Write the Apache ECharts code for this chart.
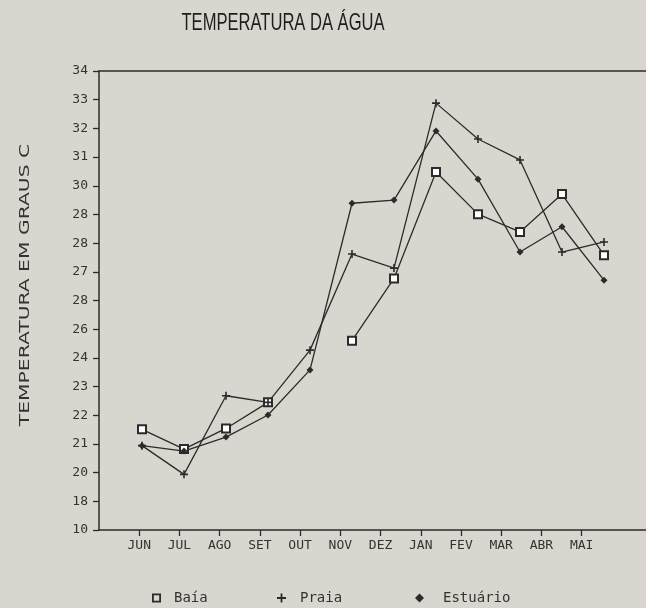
<!DOCTYPE html>
<html>
<head>
<meta charset="utf-8">
<script src="https://cdn.jsdelivr.net/npm/echarts@6/dist/echarts.min.js"></script>
<style>
  html, body { margin: 0; padding: 0; background: #d8d6ce; }
  #chart { width: 646px; height: 608px; }
</style>
</head>
<body>
<div id="chart"></div>
<script>
// months on the x axis
const months = ['JUN', 'JUL', 'AGO', 'SET', 'OUT', 'NOV', 'DEZ', 'JAN', 'FEV', 'MAR', 'ABR', 'MAI'];
// printed y tick labels, bottom to top (evenly spaced on the original)
const yTickLabels = ['10', '18', '20', '21', '22', '23', '24', '26', '28', '27', '28', '28', '30', '31', '32', '33', '34'];

// values = position on the printed scale, in tick steps above the bottom tick
const baia = [3.51, 2.82, 3.54, 4.45, null, 6.60, 8.77, 12.48, 11.01, 10.39, 11.71, 9.58];
const praia = [2.94, 1.94, 4.68, 4.45, 6.27, 9.62, 9.13, 14.88, 13.63, 12.90, 9.69, 10.04];
const estuario = [2.94, 2.75, 3.24, 4.01, 5.58, 11.39, 11.50, 13.91, 12.23, 9.69, 10.57, 8.71];

const bg = '#d8d6ce';
const ink = '#2b2b2b';
const mono = 'DejaVu Sans Mono';
const plusPath = 'path://M4,0h2v4h4v2h-4v4h-2v-4h-4v-2h4z';
// hollow square drawn as four bars (legend key)
const hollowSquare = 'path://M0,0H10V2H0Z M0,8H10V10H0Z M0,2H2V8H0Z M8,2H10V8H8Z';

const toPairs = arr => arr.map((v, i) => [i, v == null ? '-' : v]);

const lineStyle = { color: ink, width: 1.3 };

// one legend per entry so each can sit where the typed key sits
function legendFor(name, icon, left, textPad) {
  return {
    left: left,
    top: 586,
    itemWidth: 9,
    itemHeight: 9,
    textStyle: { fontFamily: mono, fontSize: 14, color: '#333', padding: [0, 0, 0, textPad] },
    data: [{ name: name, icon: icon, itemStyle: { color: ink, borderWidth: 0 } }]
  };
}

const chart = echarts.init(document.getElementById('chart'));
chart.setOption({
  backgroundColor: bg,
  animation: false,
  graphic: [
    {
      type: 'text',
      x: 283,
      y: 23,
      scaleX: 0.69,
      style: {
        text: 'TEMPERATURA DA ÁGUA',
        fontFamily: 'Liberation Sans',
        fontSize: 24,
        fill: '#1e1e1e',
        textAlign: 'center',
        textVerticalAlign: 'middle'
      }
    },
    {
      type: 'text',
      x: 25,
      y: 285,
      rotation: Math.PI / 2,
      scaleX: 1.45,
      style: {
        text: 'TEMPERATURA EM GRAUS C',
        fontFamily: 'DejaVu Sans',
        fontSize: 14,
        fill: '#333',
        textAlign: 'center',
        textVerticalAlign: 'middle'
      }
    }
  ],
  legend: [
    legendFor('Baía', hollowSquare, 147, 8),
    legendFor('Praia', plusPath, 272, 9),
    legendFor('Estuário', 'diamond', 410, 14)
  ],
  grid: { left: 99, right: 0, top: 71, bottom: 78 },
  xAxis: [
    {
      // labelled axis (ticks as printed)
      type: 'value',
      min: -1,
      max: 12.6,
      position: 'bottom',
      axisLine: { show: true, onZero: false, lineStyle: { color: ink, width: 1.5 } },
      axisTick: { show: true, customValues: months.map((m, i) => i), length: 6, lineStyle: { color: ink, width: 1.3 } },
      axisLabel: {
        customValues: months.map((m, i) => i),
        formatter: v => months[Math.round(v)] || '',
        margin: 9,
        fontFamily: mono,
        fontSize: 13,
        color: '#333'
      },
      splitLine: { show: false }
    },
    {
      // axis the points are plotted on; also draws the top border
      type: 'value',
      min: -1.024,
      max: 12,
      position: 'top',
      axisLine: { show: true, onZero: false, lineStyle: { color: ink, width: 1.5 } },
      axisTick: { show: false },
      axisLabel: { show: false },
      splitLine: { show: false }
    }
  ],
  yAxis: {
    type: 'value',
    min: 0,
    max: 16,
    interval: 1,
    axisLine: { show: true, onZero: false, lineStyle: { color: ink, width: 1.5 } },
    axisTick: { show: true, length: 6, lineStyle: { color: ink, width: 1.3 } },
    axisLabel: {
      formatter: v => yTickLabels[Math.round(v)],
      margin: 11,
      fontFamily: mono,
      fontSize: 13,
      color: '#333'
    },
    splitLine: { show: false }
  },
  series: [
    {
      name: 'Baía',
      type: 'line',
      xAxisIndex: 1,
      data: toPairs(baia),
      symbol: 'emptyRect',
      symbolSize: 8,
      itemStyle: { color: ink, borderColor: ink, borderWidth: 2 },
      lineStyle: lineStyle
    },
    {
      name: 'Praia',
      type: 'line',
      xAxisIndex: 1,
      data: toPairs(praia),
      symbol: plusPath,
      symbolSize: 8,
      itemStyle: { color: ink },
      lineStyle: lineStyle
    },
    {
      name: 'Estuário',
      type: 'line',
      xAxisIndex: 1,
      data: toPairs(estuario),
      symbol: 'diamond',
      symbolSize: 7,
      itemStyle: { color: ink },
      lineStyle: lineStyle
    }
  ]
});
</script>
</body>
</html>
